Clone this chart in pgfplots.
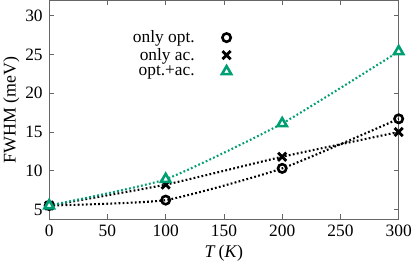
\documentclass[border=0pt]{standalone}
\usepackage{pgfplots}
\pgfplotsset{compat=1.18}
\usepackage{fontspec}
\setmainfont{Liberation Serif}
\definecolor{gg}{HTML}{009E73}
\begin{document}
\begin{tikzpicture}
\begin{axis}[
  scale only axis, width=351bp, height=220bp,
  xmin=0, xmax=300, ymin=3.7, ymax=32,
  xtick={0,50,...,300}, ytick={5,10,...,30},
  tick align=inside, major tick length=5bp,
  xtick pos=both, ytick pos=both,
  /pgf/number format/assume math mode=true,
  tick label style={font=\fontsize{17.5}{19}\selectfont},
  xticklabel style={yshift=-2bp},
  yticklabel style={xshift=-3bp},
  label style={font=\fontsize{18}{19}\selectfont},
  xlabel={\textit{T}\,(\textit{K})},
  ylabel={FWHM (meV)},
  xlabel style={yshift=-2bp},
  ylabel style={yshift=-1bp},
  axis line style={gray!80!black, line width=0.8bp},
  every tick/.style={gray!80!black, line width=0.8bp},
  clip=false,
  legend plot pos=right,
  legend style={draw=none, fill=none, at={(0.53,0.88)}, anchor=north east,
    font=\fontsize{17.5}{15}\selectfont, legend cell align=right,
    row sep=0bp},
  legend image code/.code={\path[draw=none, fill=none] (0bp,0bp) -- (30bp,0bp);
    \draw[mark repeat=1,#1] plot coordinates {(30bp,0bp)};},
  dotl/.style={line width=2.1bp, dash pattern=on 1.8bp off 2.3bp, smooth, tension=0.3},
  mo/.style={mark=o, mark size=4.2bp, mark options={solid, line width=2.6bp}},
  mx/.style={mark=x, mark size=5.8bp, mark options={solid, line width=2.8bp}},
  mt/.style={mark=triangle*, mark size=5.4bp, mark options={solid, line width=2.6bp, fill=white}},
]
\addplot[black, dotl, mo, forget plot] coordinates {
  (0,5.5) (100,6.2) (200,10.3) (300,16.7)};
\addplot[black, dotl, mx, forget plot] coordinates {
  (0,5.5) (100,8.2) (200,11.8) (300,15.0)};
\addplot[gg, dotl, mt, forget plot] coordinates {
  (0,5.5) (100,8.9) (200,16.1) (300,25.4)};
\addlegendimage{only marks, black, mo}
\addlegendentry{only opt.}
\addlegendimage{only marks, black, mx}
\addlegendentry{only ac.}
\addlegendimage{only marks, gg, mt}
\addlegendentry{opt.+ac.}
\end{axis}
\end{tikzpicture}
\end{document}
